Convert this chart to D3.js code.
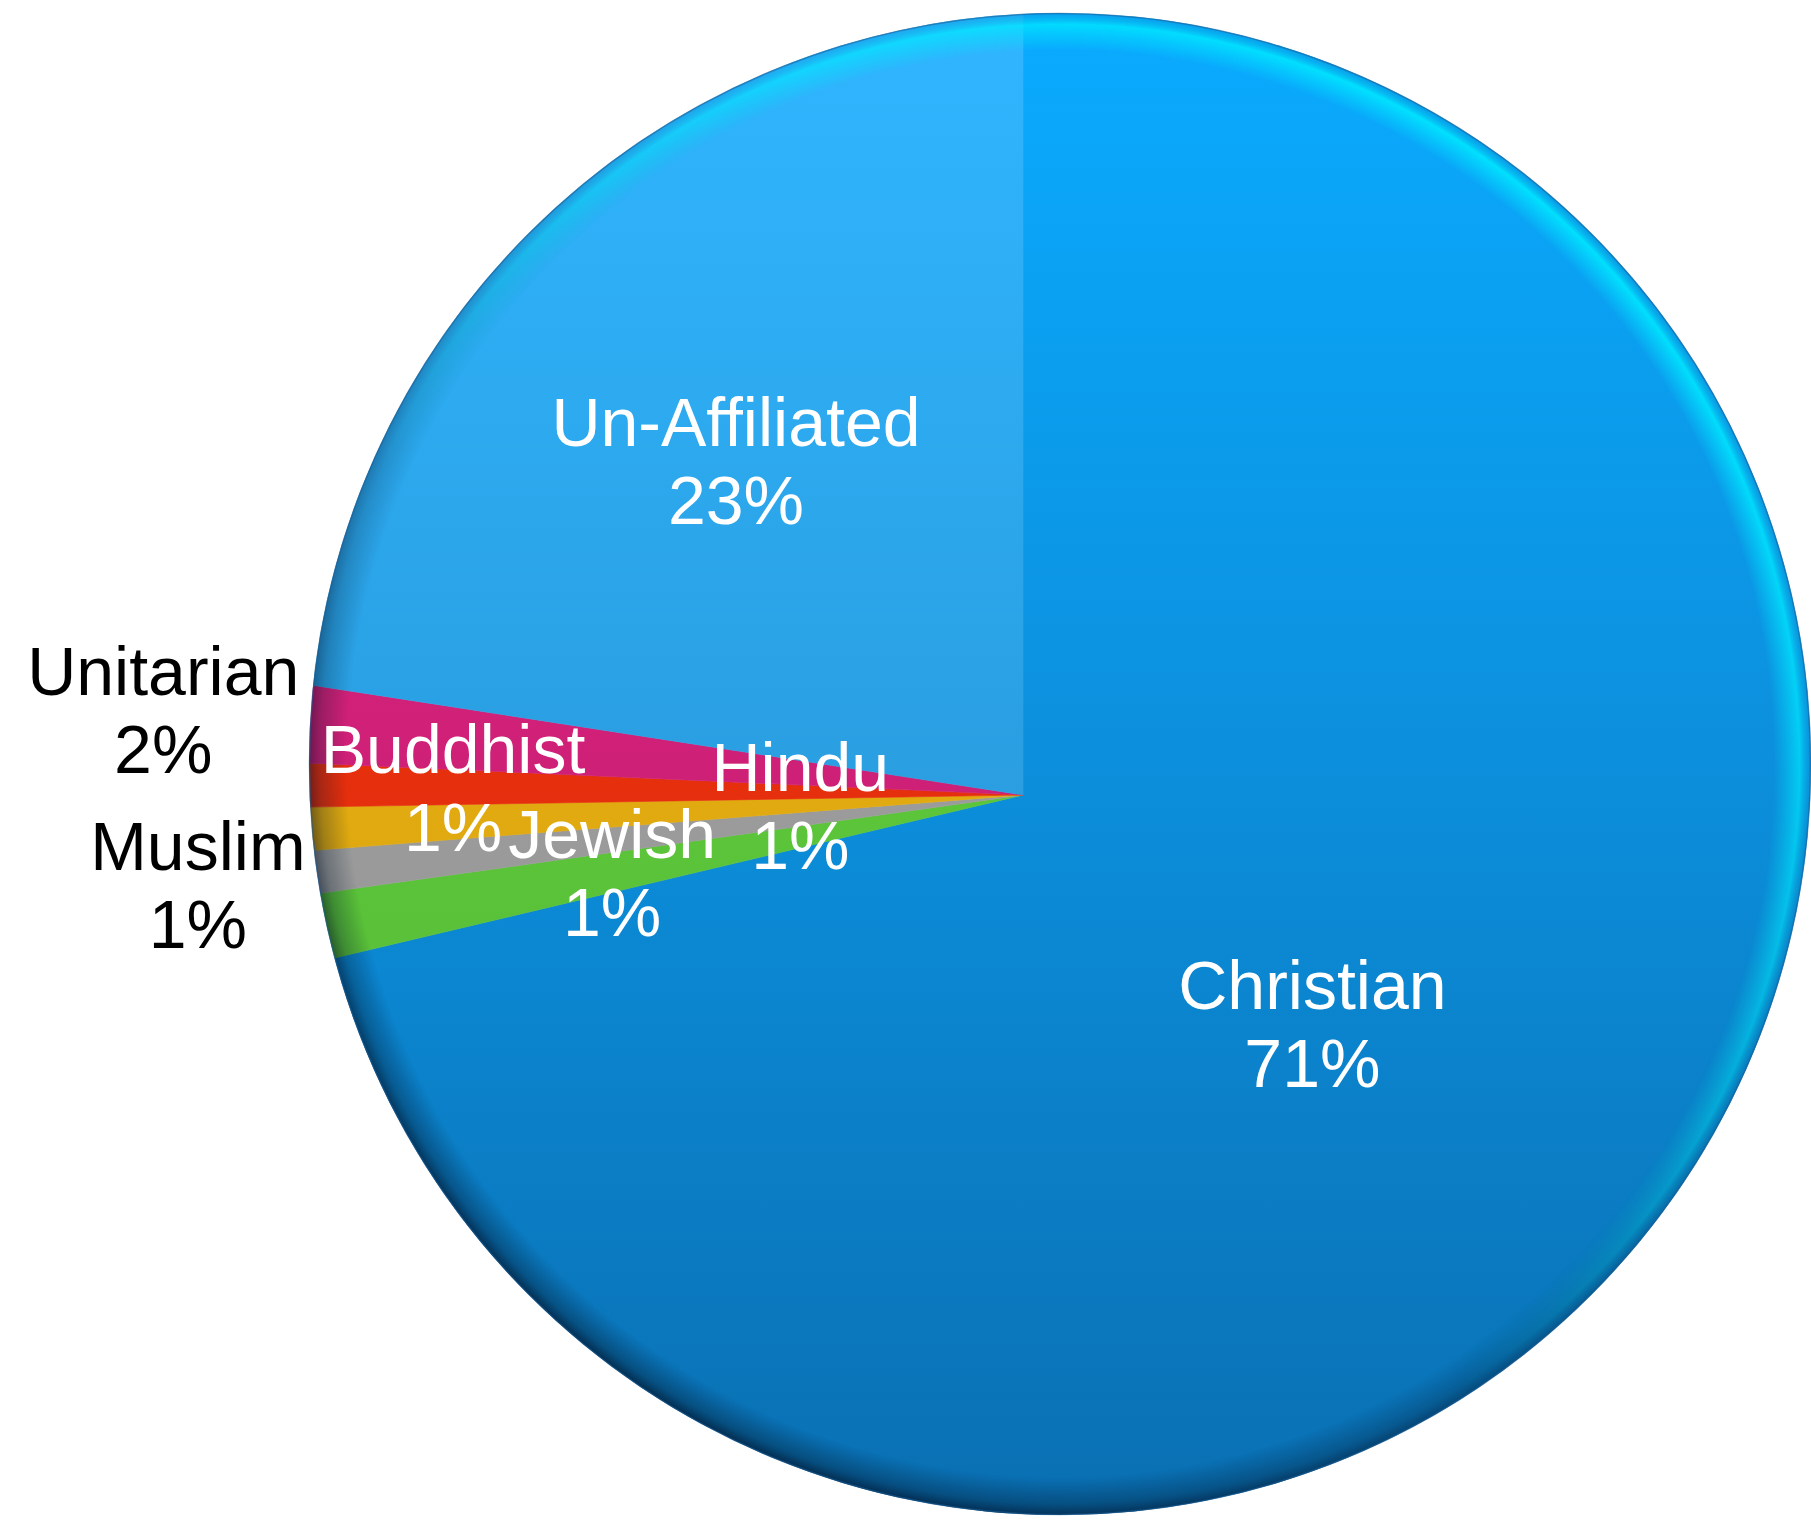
<!DOCTYPE html>
<html><head><meta charset="utf-8">
<script src="https://cdn.jsdelivr.net/npm/d3@7"></script>
<style>html,body{margin:0;padding:0;background:#fff;} svg{display:block;}</style>
</head><body>
<script>
// ---- data ----
const categories = ["Christian","Jewish","Muslim","Hindu","Buddhist","Unitarian","Un-Affiliated"];
const values = [71.3, 1.49, 0.97, 0.97, 0.98, 1.73, 22.56];
const percentLabels = ["71%","1%","1%","1%","1%","2%","23%"];

// ---- styles / layout ----
const baseColors = ["#0c8fdc","#5cc63a","#9c9c9c","#e2ab10","#e62f0d","#cf2077","#2ba3e8"];
const gradStops = {
  "Christian": ["#0aabff","#0c8fdc","#0a6fb2"],
  "Un-Affiliated": ["#30b6ff","#2a9fe2","#2888c8"]
};
const W = 1811, H = 1528;
const disc = {cx:1060, cy:764, r:751};
const apex = {x:1023, y:795};
const labelDist = {"Christian":369,"Jewish":418,"Muslim":830,"Hindu":223,"Buddhist":570,"Unitarian":864,"Un-Affiliated":441};
const outsideLabels = new Set(["Muslim","Unitarian"]);
const fontSize = 68, lineGap = 78;

const svg = d3.select("body").append("svg").attr("width", W).attr("height", H);
const defs = svg.append("defs");

defs.append("clipPath").attr("id","discClip")
  .append("circle").attr("cx",disc.cx).attr("cy",disc.cy).attr("r",disc.r);

const data = categories.map((c,i)=>({name:c, value:values[i], pct:percentLabels[i], color:baseColors[i]}));

// gradients are used inside a group translated to the apex -> coordinates relative to apex
data.forEach((d,i)=>{
  const g = defs.append("linearGradient").attr("id","grad"+i)
    .attr("gradientUnits","userSpaceOnUse")
    .attr("x1",0).attr("x2",0)
    .attr("y1",disc.cy-disc.r-apex.y).attr("y2",disc.cy+disc.r-apex.y);
  let stops = gradStops[d.name];
  if(!stops){
    const c = d3.color(d.color);
    stops = [c.brighter(0.3).formatHex(), c.formatHex(), c.darker(0.3).formatHex()];
  }
  g.append("stop").attr("offset",0).attr("stop-color",stops[0]);
  g.append("stop").attr("offset",0.5).attr("stop-color",stops[1]);
  g.append("stop").attr("offset",1).attr("stop-color",stops[2]);
});

// rim shading gradients
const dark = defs.append("radialGradient").attr("id","darkRim").attr("gradientUnits","userSpaceOnUse")
  .attr("cx",disc.cx).attr("cy",disc.cy).attr("r",disc.r);
dark.append("stop").attr("offset",0.95).attr("stop-color","#001428").attr("stop-opacity",0);
dark.append("stop").attr("offset",0.985).attr("stop-color","#001428").attr("stop-opacity",0.4);
dark.append("stop").attr("offset",1).attr("stop-color","#000a1e").attr("stop-opacity",0.7);

const light = defs.append("radialGradient").attr("id","lightRim").attr("gradientUnits","userSpaceOnUse")
  .attr("cx",disc.cx).attr("cy",disc.cy).attr("r",disc.r);
light.append("stop").attr("offset",0.95).attr("stop-color","#00e8ff").attr("stop-opacity",0);
light.append("stop").attr("offset",0.985).attr("stop-color","#00eaff").attr("stop-opacity",0.85);
light.append("stop").attr("offset",1).attr("stop-color","#0a90d8").attr("stop-opacity",0.5);

const mDarkG = defs.append("linearGradient").attr("id","mDarkG")
  .attr("x1",0.85).attr("y1",0.1).attr("x2",0.2).attr("y2",0.95);
mDarkG.append("stop").attr("offset",0.2).attr("stop-color","#000");
mDarkG.append("stop").attr("offset",0.55).attr("stop-color","#777");
mDarkG.append("stop").attr("offset",0.9).attr("stop-color","#fff");
defs.append("mask").attr("id","mDark").attr("maskContentUnits","userSpaceOnUse")
  .append("rect").attr("x",0).attr("y",0).attr("width",W).attr("height",H).attr("fill","url(#mDarkG)");

const mLightG = defs.append("linearGradient").attr("id","mLightG")
  .attr("x1",0.85).attr("y1",0.15).attr("x2",0.45).attr("y2",0.55);
mLightG.append("stop").attr("offset",0).attr("stop-color","#fff");
mLightG.append("stop").attr("offset",0.6).attr("stop-color","#888");
mLightG.append("stop").attr("offset",1).attr("stop-color","#000");
defs.append("mask").attr("id","mLight").attr("maskContentUnits","userSpaceOnUse")
  .append("rect").attr("x",0).attr("y",0).attr("width",W).attr("height",H).attr("fill","url(#mLightG)");

// ---- pie ----
const pie = d3.pie().sort(null).value(d=>d.value).startAngle(0).endAngle(2*Math.PI);
const arcs = pie(data);
const wedge = d3.arc().innerRadius(0).outerRadius(2200);

const pieG = svg.append("g").attr("clip-path","url(#discClip)");
pieG.append("g").attr("transform",`translate(${apex.x},${apex.y})`)
  .selectAll("path").data(arcs).join("path")
  .attr("d", wedge)
  .attr("fill",(d,i)=>`url(#grad${i})`)
  .attr("stroke",(d,i)=>`url(#grad${i})`).attr("stroke-width",0.6);

svg.append("circle").attr("cx",disc.cx).attr("cy",disc.cy).attr("r",disc.r)
  .attr("fill","url(#darkRim)").attr("mask","url(#mDark)");
svg.append("circle").attr("cx",disc.cx).attr("cy",disc.cy).attr("r",disc.r)
  .attr("fill","url(#lightRim)").attr("mask","url(#mLight)");
svg.append("circle").attr("cx",disc.cx).attr("cy",disc.cy).attr("r",disc.r-0.5)
  .attr("fill","none").attr("stroke","#1b5f98").attr("stroke-opacity",0.55).attr("stroke-width",1.5);

// ---- labels ----
const labG = svg.append("g").attr("transform",`translate(${apex.x},${apex.y})`)
  .attr("font-family","'Liberation Sans', Arial, Helvetica, sans-serif")
  .attr("font-size",fontSize).attr("text-anchor","middle");

arcs.forEach(a=>{
  const dist = labelDist[a.data.name];
  const c = d3.arc().innerRadius(dist).outerRadius(dist).centroid(a);
  const t = labG.append("text").attr("fill", outsideLabels.has(a.data.name) ? "#000" : "#fff");
  t.append("tspan").attr("x",c[0]).attr("y",c[1]-14.5).text(a.data.name);
  t.append("tspan").attr("x",c[0]).attr("y",c[1]-14.5+lineGap).text(a.data.pct);
});
</script>
</body></html>
